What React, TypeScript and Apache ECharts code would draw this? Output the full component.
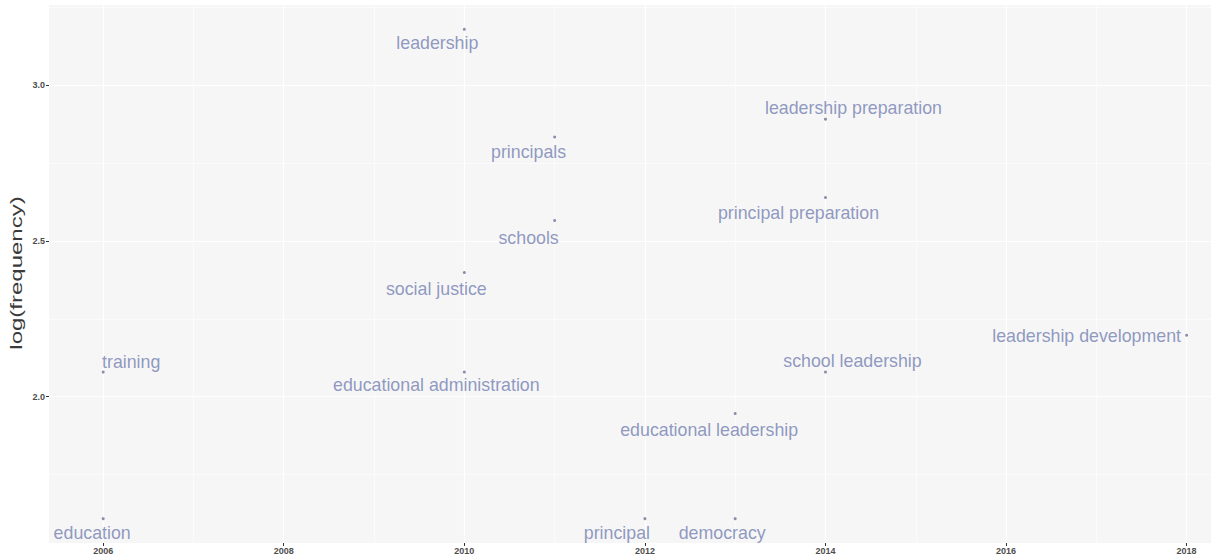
import React, { useEffect, useRef } from 'react';
import * as echarts from 'echarts';

const terms = [
  'leadership',
  'leadership preparation',
  'principals',
  'principal preparation',
  'schools',
  'social justice',
  'training',
  'educational administration',
  'school leadership',
  'leadership development',
  'educational leadership',
  'education',
  'principal',
  'democracy',
];
const years = [2010, 2014, 2011, 2014, 2011, 2010, 2006, 2010, 2014, 2018, 2013, 2006, 2012, 2013];
const logFrequency = [3.178, 2.89, 2.833, 2.639, 2.565, 2.398, 2.079, 2.079, 2.079, 2.197, 1.946, 1.609, 1.609, 1.609];

const xTicks = [2006, 2008, 2010, 2012, 2014, 2016, 2018];
const xMinorTicks = [2007, 2009, 2011, 2013, 2015, 2017];
const yTicks = [2.0, 2.5, 3.0];
const yMinorTicks = [1.75, 2.25, 2.75, 3.25];

// label placement (layout only)
const labelNudge: number[][] = [
  [-27, 14],
  [28, -11],
  [-26, 15],
  [-27, 16],
  [-26, 17],
  [-28, 16],
  [28, -10],
  [-28, 13],
  [27, -11],
  [-100, 1],
  [-26, 16],
  [-11, 14],
  [-28, 14],
  [-13, 14],
];

const FONT = "'Liberation Sans', Arial, Helvetica, sans-serif";

export default function App() {
  const ref = useRef<HTMLDivElement>(null);
  useEffect(() => {
    document.body.style.margin = '0';
    const chart = echarts.init(ref.current!, null, { renderer: 'svg' });
    const gridLines: any[] = [];
    xTicks.forEach((v) => gridLines.push({ xAxis: v, lineStyle: { color: '#ffffff', width: 1.2, type: 'solid' } }));
    xMinorTicks.forEach((v) => gridLines.push({ xAxis: v, lineStyle: { color: '#ffffff', width: 0.6, type: 'solid' } }));
    yTicks.forEach((v) => gridLines.push({ yAxis: v, lineStyle: { color: '#ffffff', width: 1.2, type: 'solid' } }));
    yMinorTicks.forEach((v) => gridLines.push({ yAxis: v, lineStyle: { color: '#ffffff', width: 0.6, type: 'solid' } }));

    chart.setOption({
      animation: false,
      textStyle: { fontFamily: FONT },
      grid: {
        left: 49,
        right: 0,
        top: 5,
        bottom: 17,
        show: true,
        backgroundColor: '#f6f6f6',
        borderWidth: 0,
        containLabel: false,
      },
      graphic: [
        {
          type: 'text',
          x: 17,
          y: 273,
          rotation: Math.PI / 2,
          scaleX: 1.5,
          style: {
            text: 'log(frequency)',
            fontSize: 16,
            fontFamily: FONT,
            fill: '#3a3a3a',
            align: 'center',
            verticalAlign: 'middle',
          },
        },
      ],
      xAxis: {
        type: 'value',
        min: 2005.4,
        max: 2018.27,
        axisLine: { show: false },
        splitLine: { show: false },
        axisTick: { show: true, length: 3, lineStyle: { color: '#333333' }, customValues: xTicks },
        axisLabel: {
          customValues: xTicks,
          fontSize: 9,
          fontWeight: 'bold',
          color: '#4d4d4d',
          margin: 3,
          fontFamily: FONT,
          formatter: (v: number) => String(v),
        },
      },
      yAxis: {
        type: 'value',
        min: 1.531,
        max: 3.256,
        axisLine: { show: false },
        splitLine: { show: false },
        axisTick: { show: true, length: 3, lineStyle: { color: '#333333' }, customValues: yTicks },
        axisLabel: {
          customValues: yTicks,
          fontSize: 9,
          fontWeight: 'bold',
          color: '#4d4d4d',
          margin: 4,
          fontFamily: FONT,
          formatter: (v: number) => v.toFixed(1),
        },
      },
      series: [
        {
          type: 'scatter',
          symbolSize: 3,
          itemStyle: { color: '#6d7299' },
          data: terms.map((t, i) => ({
            name: t,
            value: [years[i], logFrequency[i]],
          })),
          label: {
            show: true,
            position: 'inside',
            formatter: '{b}',
            fontSize: 17.8,
            color: '#7480b2',
            fontFamily: FONT,
            align: 'center',
            verticalAlign: 'middle',
          },
          labelLayout: (p: any) => ({
            dx: labelNudge[p.dataIndex][0],
            dy: labelNudge[p.dataIndex][1],
            hideOverlap: false,
          }),
          markLine: {
            silent: true,
            symbol: ['none', 'none'],
            label: { show: false },
            z: 0,
            data: gridLines,
          },
        },
      ],
    });
    return () => chart.dispose();
  }, []);
  return <div ref={ref} style={{ width: 1211, height: 560 }} />;
}
